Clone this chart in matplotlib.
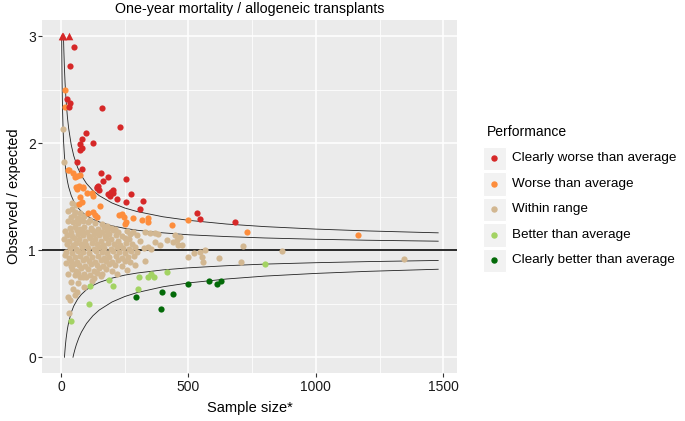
import matplotlib.pyplot as plt
from matplotlib.patches import Rectangle

plt.rcParams["font.family"] = ["Liberation Sans", "DejaVu Sans"]

# ── Data ─────────────────────────────────────────────────────
categories = ["Clearly worse than average", "Worse than average", "Within range",
              "Better than average", "Clearly better than average"]
colors = ["#D62828", "#FD8D3C", "#D2B791", "#A3D363", "#036A08"]

red_x = [52, 36.5, 25, 35, 33, 162, 233, 98, 82, 73, 81, 73, 124, 61.5, 81, 157, 183, 164,
         254, 142, 205, 146, 150, 140, 196, 186, 203, 192, 218, 275, 255, 320, 310, 535, 545, 681]
red_y = [2.894, 2.723, 2.409, 2.372, 2.334, 2.325, 2.148, 2.091, 2.038, 1.99, 1.951, 1.936,
         1.998, 1.826, 1.758, 1.718, 1.68, 1.649, 1.662, 1.593, 1.562, 1.6, 1.562, 1.578, 1.546,
         1.525, 1.537, 1.506, 1.478, 1.525, 1.447, 1.459, 1.382, 1.345, 1.289, 1.266]
# values capped at 3 (drawn as triangles)
capped_x = [4, 8, 30]
capped_y = [3, 3, 3]

orange_x = [15.7, 15.7, 31, 48, 55, 75, 61.5, 29, 59, 72, 85, 101, 120, 124, 75, 81, 72, 153,
            105, 127, 133, 142, 228, 238, 248, 255, 251, 281, 317, 343, 343, 434, 500, 728,
            1166, 61.5, 87.5]
orange_y = [2.496, 2.334, 1.746, 1.718, 1.686, 1.702, 1.693, 1.749, 1.587, 1.6, 1.578, 1.531,
            1.537, 1.506, 1.494, 1.453, 1.431, 1.413, 1.35, 1.36, 1.329, 1.313, 1.329, 1.338,
            1.313, 1.266, 1.245, 1.304, 1.282, 1.298, 1.266, 1.235, 1.282, 1.167, 1.139, 1.57,
            1.593]

tan_x = [8, 13,
         45, 58,
         29, 42, 55, 75, 90,
         38, 52, 66, 80, 112,
         28, 47, 67, 86, 106, 133, 161, 180, 62,
         35, 55, 74, 92, 118, 145, 170, 195, 212,
         16, 40, 61, 81, 101, 120, 140, 160, 179, 205, 225, 258, 284, 330, 349, 369, 382,
         22, 45, 65, 88, 108, 128, 150, 172, 190, 215, 240, 270, 300, 448, 467,
         12, 32, 52, 70, 95, 115, 135, 155, 178, 198, 222, 250, 265, 310, 415, 454, 441, 369,
         25, 48, 60, 78, 100, 122, 142, 165, 185, 208, 232, 255, 280, 343, 388, 460, 474, 715,
         35, 58, 82, 105, 130, 150, 170, 195, 218, 242, 265, 290, 325, 355, 565,
         18, 42, 65, 88, 110, 138, 160, 182, 205, 228, 250, 275, 300, 545, 866, 520,
         16, 30, 55, 75, 98, 122, 145, 168, 190, 215, 240, 262, 288, 552, 621, 500,
         40, 62, 85, 108, 132, 155, 178, 200, 225, 250, 270, 330, 558, 705, 1346,
         20, 38, 50, 72, 95, 118, 140, 165, 188, 212, 238, 290,
         45, 60, 80, 105, 128, 150, 175, 200, 260,
         26, 55, 68, 92, 115, 140, 162, 220,
         75, 85, 100, 130, 155,
         40, 65, 120,
         48, 61.5, 90,
         29, 35, 55,
         33]
tan_y = [2.13, 1.82,
         1.44, 1.42,
         1.37, 1.38, 1.36, 1.35, 1.32,
         1.31, 1.33, 1.30, 1.29, 1.28,
         1.27, 1.26, 1.25, 1.27, 1.26, 1.25, 1.24, 1.23, 1.28,
         1.21, 1.22, 1.20, 1.22, 1.21, 1.20, 1.22, 1.21, 1.20,
         1.18, 1.17, 1.19, 1.18, 1.17, 1.19, 1.18, 1.17, 1.18, 1.19, 1.17, 1.18, 1.17, 1.17, 1.16, 1.16, 1.155,
         1.14, 1.13, 1.15, 1.14, 1.13, 1.15, 1.14, 1.13, 1.15, 1.14, 1.13, 1.15, 1.14, 1.142, 1.127,
         1.10, 1.09, 1.11, 1.10, 1.09, 1.11, 1.10, 1.09, 1.11, 1.10, 1.09, 1.11, 1.10, 1.09, 1.095, 1.095, 1.081, 1.081,
         1.06, 1.05, 1.07, 1.06, 1.05, 1.07, 1.06, 1.05, 1.07, 1.06, 1.05, 1.07, 1.06, 1.033, 1.05, 1.05, 1.05, 1.036,
         1.02, 1.01, 1.03, 1.02, 1.01, 1.03, 1.02, 1.01, 1.03, 1.02, 1.01, 1.03, 1.02, 1.01, 0.999,
         0.98, 0.97, 0.99, 0.98, 0.97, 0.99, 0.98, 0.97, 0.99, 0.98, 0.97, 0.99, 0.98, 0.986, 0.993, 0.975,
         0.955, 0.93, 0.94, 0.95, 0.93, 0.94, 0.95, 0.93, 0.94, 0.95, 0.93, 0.94, 0.95, 0.939, 0.927, 0.94,
         0.90, 0.89, 0.91, 0.90, 0.89, 0.91, 0.90, 0.89, 0.91, 0.90, 0.89, 0.90, 0.893, 0.893, 0.915,
         0.877, 0.85, 0.87, 0.86, 0.85, 0.87, 0.86, 0.85, 0.87, 0.86, 0.85, 0.86,
         0.82, 0.81, 0.83, 0.82, 0.81, 0.83, 0.82, 0.81, 0.815,
         0.78, 0.77, 0.79, 0.78, 0.77, 0.79, 0.78, 0.775,
         0.753, 0.747, 0.75, 0.74, 0.755,
         0.70, 0.69, 0.71,
         0.64, 0.61, 0.66,
         0.56, 0.535, 0.58,
         0.41]

lgreen_x = [307, 343, 352, 365, 415, 114, 190, 203, 303, 110, 39, 800]
lgreen_y = [0.753, 0.753, 0.778, 0.753, 0.794, 0.669, 0.722, 0.669, 0.638, 0.498, 0.342, 0.868]

dgreen_x = [294, 395, 438, 500, 581, 611, 628, 391]
dgreen_y = [0.566, 0.613, 0.591, 0.682, 0.712, 0.684, 0.712, 0.448]

# funnel control limits
uo_n = [9.7, 11, 13, 16, 20, 25, 30, 40, 50, 65, 80, 100, 125, 150, 200, 250, 300, 400, 500,
        650, 800, 1000, 1200, 1480]
uo_y = [3.000, 2.878, 2.728, 2.558, 2.393, 2.246, 2.138, 1.985, 1.881, 1.773, 1.697, 1.623,
        1.557, 1.509, 1.441, 1.394, 1.360, 1.312, 1.279, 1.244, 1.220, 1.197, 1.180, 1.162]
ui_n = [2.6, 3, 4, 5, 6, 8, 10, 13, 16, 20, 25, 30, 40, 50, 65, 80, 100, 125, 150, 200, 250,
        300, 400, 500, 650, 800, 1000, 1200, 1480]
ui_y = [3.000, 2.865, 2.615, 2.444, 2.319, 2.142, 2.021, 1.896, 1.808, 1.722, 1.646, 1.590,
        1.511, 1.457, 1.401, 1.361, 1.323, 1.289, 1.264, 1.228, 1.204, 1.186, 1.162, 1.144,
        1.127, 1.114, 1.102, 1.093, 1.084]
li_n = [13.6, 15, 17, 20, 25, 30, 40, 50, 65, 80, 100, 125, 150, 200, 250, 300, 400, 500, 650,
        800, 1000, 1200, 1480]
li_y = [0.000, 0.047, 0.105, 0.175, 0.262, 0.326, 0.417, 0.478, 0.542, 0.587, 0.631, 0.670,
        0.699, 0.739, 0.767, 0.787, 0.816, 0.835, 0.855, 0.870, 0.883, 0.893, 0.904]
lo_n = [47, 50, 55, 60, 70, 80, 100, 125, 150, 200, 250, 300, 400, 500, 650, 800, 1000, 1200,
        1480]
lo_y = [0.000, 0.031, 0.076, 0.116, 0.181, 0.234, 0.315, 0.387, 0.441, 0.516, 0.567, 0.605,
        0.658, 0.694, 0.731, 0.758, 0.783, 0.802, 0.822]

# ── Figure ───────────────────────────────────────────────────
W, H = 685, 421
fig = plt.figure(figsize=(W / 100, H / 100), dpi=100)
px_l, px_r, px_t, px_b = 42.3, 457.3, 20, 373.3
ax = fig.add_axes([px_l / W, 1 - px_b / H, (px_r - px_l) / W, (px_b - px_t) / H])

ax.set_facecolor("#EBEBEB")
for s in ax.spines.values():
    s.set_visible(False)
ax.set_xlim(-73.4, 1555)
ax.set_ylim(-0.15, 3.15)
ax.set_xticks([0, 500, 1000, 1500])
ax.set_yticks([0, 1, 2, 3])
ax.set_xticks([250, 750, 1250], minor=True)
ax.set_yticks([0.5, 1.5, 2.5], minor=True)
ax.grid(which="major", color="white", lw=1.1)
ax.grid(which="minor", color="white", lw=0.55)
ax.set_axisbelow(True)
ax.tick_params(which="major", length=2.6, width=0.8, color="#333333",
               labelsize=10, labelcolor="#1A1A1A", pad=2)
ax.tick_params(which="minor", length=0)

ax.axhline(1, color="#1A1A1A", lw=1.3, zorder=2)
for nx, ny in [(uo_n, uo_y), (ui_n, ui_y), (li_n, li_y), (lo_n, lo_y)]:
    ax.plot(nx, ny, color="#222222", lw=0.6, zorder=2)

ms = 20
ax.scatter(tan_x, tan_y, s=ms, color=colors[2], lw=0, zorder=3)
ax.scatter(orange_x, orange_y, s=ms, color=colors[1], lw=0, zorder=3)
ax.scatter(red_x, red_y, s=ms, color=colors[0], lw=0, zorder=3)
ax.scatter(capped_x, capped_y, s=30, marker="^", color=colors[0], lw=0, zorder=3, clip_on=False)
ax.scatter(lgreen_x, lgreen_y, s=ms, color=colors[3], lw=0, zorder=3)
ax.scatter(dgreen_x, dgreen_y, s=ms, color=colors[4], lw=0, zorder=3)

ax.set_title("One-year mortality / allogeneic transplants", fontsize=10.3, pad=5)
ax.set_xlabel("Sample size*", fontsize=10.5, labelpad=5)
ax.set_ylabel("Observed / expected", fontsize=10.5, labelpad=5)

# ── Legend (drawn by hand, ggplot style) ─────────────────────
def fx(px):
    return px / W


def fy(py):
    return 1 - py / H


fig.text(fx(486.5), fy(132), "Performance", fontsize=10, va="center", ha="left")
key_y = [158.3, 183.8, 209.3, 234.8, 260.3]
for lab, col, ky in zip(categories, colors, key_y):
    fig.add_artist(Rectangle((fx(482.5), fy(ky + 11.8)), 23.5 / W, 23.5 / H,
                             transform=fig.transFigure, facecolor="#F2F2F2",
                             edgecolor="white", lw=0.8))
    fig.add_artist(plt.Line2D([fx(494.2)], [fy(ky)], marker="o", markersize=3.6,
                              color=col, linestyle="", transform=fig.transFigure))
    fig.text(fx(512), fy(ky), lab, fontsize=9.7, va="center", ha="left")

fig.savefig("out.png", dpi=100)
